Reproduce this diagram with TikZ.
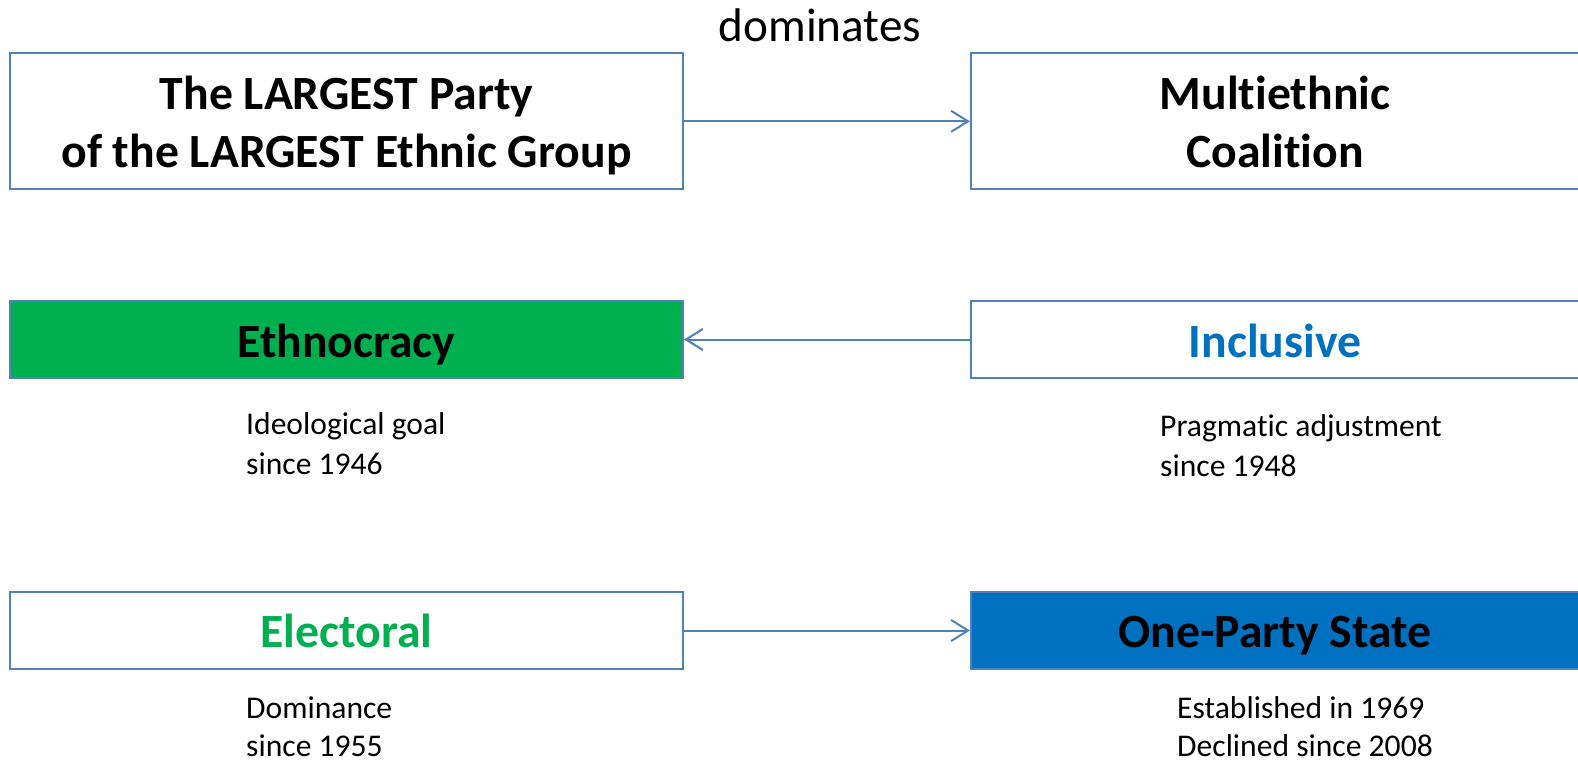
\documentclass[tikz,border=0pt]{standalone}
\usepackage{fontspec}
\setmainfont{Carlito}[Ligatures=NoCommon]
\usetikzlibrary{arrows.meta}
\definecolor{bordblue}{HTML}{4F81BD}
\definecolor{fillgreen}{HTML}{00B050}
\definecolor{fillblue}{HTML}{0070C0}
\tikzset{
  boxnode/.style={draw=bordblue, line width=2bp, rectangle, inner sep=0pt, minimum width=673bp},
  titletext/.style={font=\fontsize{47.7bp}{57.4bp}\selectfont\bfseries, inner sep=0pt, align=center, anchor=base},
  smalltext/.style={font=\fontsize{31.6bp}{39.5bp}\selectfont, inner sep=0pt, align=left, anchor=base west},
  lowtext/.style={smalltext, font=\fontsize{31.6bp}{38bp}\selectfont},
  conn/.style={draw=bordblue, line width=2bp, -{Straight Barb[length=17bp,width=21bp,line width=2bp]}}
}
\begin{document}
\begin{tikzpicture}[x=1bp,y=-1bp]
\clip (0,0) rectangle (1578,761);
\fill[white] (0,0) rectangle (1578,761);
% row 1
\node[boxnode, minimum height=136bp] (b1) at (346.5,121.3) {};
\node[boxnode, minimum height=136bp] (b2) at (1307.5,121.3) {};
\node[titletext] (t1) at (346.5,167) {The LARGEST Party\\of the LARGEST Ethnic Group};
\node[titletext] (t2) at (1275,167) {Multiethnic\\Coalition};
\node[font=\fontsize{47.2bp}{56bp}\selectfont, inner sep=0pt, anchor=base] (dom) at (820,41.3) {dominates};
\draw[conn] (b1.east) -- (b2.west);
% row 2
\node[boxnode, fill=fillgreen, minimum height=77bp] (b3) at (346.5,339.5) {};
\node[boxnode, minimum height=77bp] (b4) at (1307.5,339.5) {};
\node[titletext] (t3) at (346.5,357) {Ethnocracy};
\node[titletext, text=fillblue] (t4) at (1275,357) {Inclusive};
\draw[conn] (b4.west) -- (b3.east);
\node[smalltext] (s3) at (246,474) {Ideological goal\\since 1946};
\node[smalltext] (s4) at (1160,476) {Pragmatic adjustment\\since 1948};
% row 3
\node[boxnode, minimum height=77.5bp] (b5) at (346.5,630.5) {};
\node[boxnode, fill=fillblue, minimum height=77.5bp] (b6) at (1307.5,630.5) {};
\node[titletext, text=fillgreen] (t5) at (346.5,647) {Electoral};
\node[titletext] (t6) at (1275,647) {One-Party State};
\draw[conn] (b5.east) -- (b6.west);
\node[lowtext] (s5) at (246,756) {Dominance\\since 1955};
\node[lowtext] (s6) at (1177,756) {Established in 1969\\Declined since 2008};
\end{tikzpicture}
\end{document}
